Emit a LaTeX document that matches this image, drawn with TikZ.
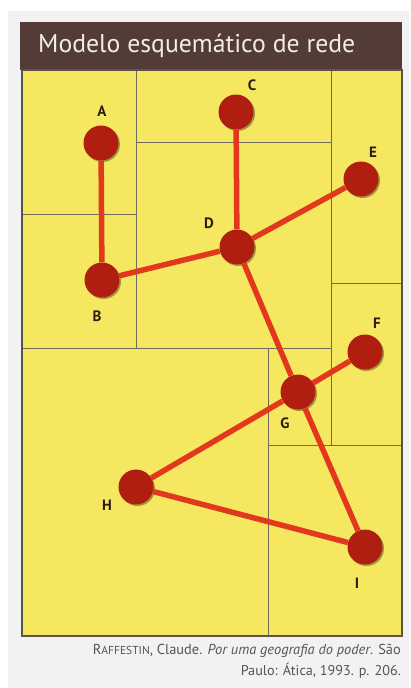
\documentclass[tikz,border=0pt]{standalone}
\usepackage{fontspec}
\setmainfont{PT Sans}
\usetikzlibrary{shadows}
\definecolor{bgpanel}{HTML}{F2F1F4}
\definecolor{header}{HTML}{533C35}
\definecolor{titletxt}{HTML}{F2EDE8}
\definecolor{mapyellow}{HTML}{F5E860}
\definecolor{gridline}{HTML}{6F6A5A}
\definecolor{edgered}{HTML}{E2381D}
\definecolor{nodered}{HTML}{B01E10}
\definecolor{labeltxt}{HTML}{2A1C12}
\definecolor{captiontxt}{HTML}{555555}
\tikzset{
  city/.style={circle, fill=nodered, minimum size=35pt, inner sep=0pt,
    drop shadow={shadow xshift=1.5pt, shadow yshift=-1.5pt, opacity=0.35, fill=black}},
  link/.style={draw=edgered, line width=5.5pt},
  grid/.style={draw=gridline, line width=0.9pt},
  lbl/.style={font=\fontsize{15}{15}\selectfont\bfseries, text=labeltxt, inner sep=0pt},
  captxt/.style={anchor=east, text=captiontxt, inner sep=0pt, font=\fontsize{14}{14}\selectfont}
}
\begin{document}
\begin{tikzpicture}[x=1pt,y=-1pt]
\useasboundingbox (0,0) rectangle (411,688);
\fill[white] (0,0) rectangle (411,688);
\fill[bgpanel] (8,11) rectangle (409,688);
% header
\fill[header] (20,22) rectangle (402,70);
\node[anchor=west, text=titletxt, inner sep=0pt] (title) at (38,46)
  {\resizebox{317pt}{!}{Modelo esquemático de rede}};
% map
\fill[mapyellow] (22,70) rectangle (402,636);
\draw[grid] (136,70) -- (136,348);
\draw[grid] (331,70) -- (331,445);
\draw[grid] (136,142) -- (331,142);
\draw[grid] (22,214) -- (136,214);
\draw[grid] (22,348) -- (331,348);
\draw[grid] (268,348) -- (268,636);
\draw[grid] (331,283) -- (402,283);
\draw[grid] (268,445) -- (402,445);
\draw[draw=gridline!80!black, line width=1.3pt] (22,70) rectangle (402,636);
% nodes
\node[city] (A) at (101,143) {};
\node[city] (B) at (102,280) {};
\node[city] (C) at (236,112) {};
\node[city] (D) at (237,247) {};
\node[city] (E) at (361,179) {};
\node[city] (F) at (365,352) {};
\node[city] (G) at (298,392) {};
\node[city] (H) at (136,487) {};
\node[city] (I) at (365,547) {};
% links
\draw[link] (A) -- (B);
\draw[link] (B) -- (D);
\draw[link] (C) -- (D);
\draw[link] (D) -- (E);
\draw[link] (D) -- (G);
\draw[link] (G) -- (F);
\draw[link] (G) -- (H);
\draw[link] (G) -- (I);
\draw[link] (H) -- (I);
% labels
\node[lbl] (lA) at (102,111) {A};
\node[lbl] (lB) at (97,316) {B};
\node[lbl] (lC) at (252,85) {C};
\node[lbl] (lD) at (209,223) {D};
\node[lbl] (lE) at (373,152) {E};
\node[lbl] (lF) at (377,323) {F};
\node[lbl] (lG) at (285,423) {G};
\node[lbl] (lH) at (107,505) {H};
\node[lbl] (lI) at (357,583) {I};
% caption
\node[captxt] (cap1) at (401,651)
  {\resizebox{308pt}{!}{R{\fontsize{11.2}{12}\selectfont AFFESTIN}, Claude. \textit{Por uma geografia do poder}. São}};
\node[captxt] (cap2) at (401,671)
  {\resizebox{160pt}{!}{Paulo: Ática, 1993. p. 206.}};
\end{tikzpicture}
\end{document}
